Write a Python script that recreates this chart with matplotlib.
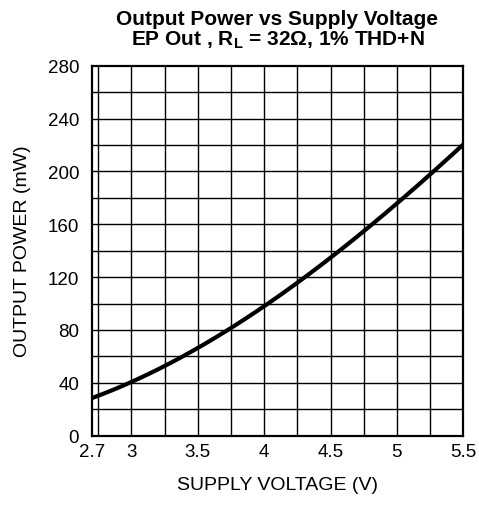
import numpy as np
from matplotlib import pyplot as plt

plt.rcParams['font.family'] = ['Liberation Sans', 'DejaVu Sans']
plt.rcParams['mathtext.fontset'] = 'custom'
plt.rcParams['mathtext.rm'] = 'Liberation Sans'
plt.rcParams['mathtext.bf'] = 'Liberation Sans:bold'

# curve
voltage = [2.7, 2.85, 3.0, 3.25, 3.5, 3.75, 4.0, 4.25, 4.5, 4.75, 5.0, 5.25, 5.5]
power = [28, 34, 41, 54, 66, 81, 98, 115, 135, 155, 176, 198, 220]

xticks = [2.7, 3, 3.5, 4, 4.5, 5, 5.5]
xtick_labels = ['2.7', '3', '3.5', '4', '4.5', '5', '5.5']
xgrid = np.arange(2.75, 5.3, 0.25)
yticks = np.arange(0, 281, 40)
ygrid = np.arange(20, 280, 20)

fig = plt.figure(figsize=(4.79, 5.06), dpi=100)
ax = fig.add_axes([0.1914, 0.137, 0.7758, 0.7312])

for gx in xgrid:
    ax.axvline(gx, color='black', lw=1.0, zorder=1)
for gy in ygrid:
    ax.axhline(gy, color='black', lw=1.0, zorder=1)

# smooth the read points with a low order fit
fit = np.polyfit(voltage, power, 3)
xs = np.linspace(voltage[0], voltage[-1], 200)
ax.plot(xs, np.polyval(fit, xs), color='black', lw=3, zorder=3, solid_capstyle='round')

ax.set_xlim(2.7, 5.5)
ax.set_ylim(0, 280)
ax.set_xticks(xticks)
ax.set_xticklabels(xtick_labels)
ax.set_yticks(yticks)
ax.tick_params(length=0, labelsize=13.5, pad=5)
ax.tick_params(axis='y', pad=9)
for s in ax.spines.values():
    s.set_linewidth(1.6)

ax.set_xlabel('SUPPLY VOLTAGE (V)', fontsize=14, labelpad=12)
ax.set_ylabel('OUTPUT POWER (mW)', fontsize=14, labelpad=12)
ax.set_title('Output Power vs Supply Voltage\nEP Out , $\\mathbf{R_L}$ = 32\u03a9, 1% THD+N',
             fontsize=15, fontweight='bold', linespacing=1.05, pad=15)

plt.savefig('out.png', dpi=100)
